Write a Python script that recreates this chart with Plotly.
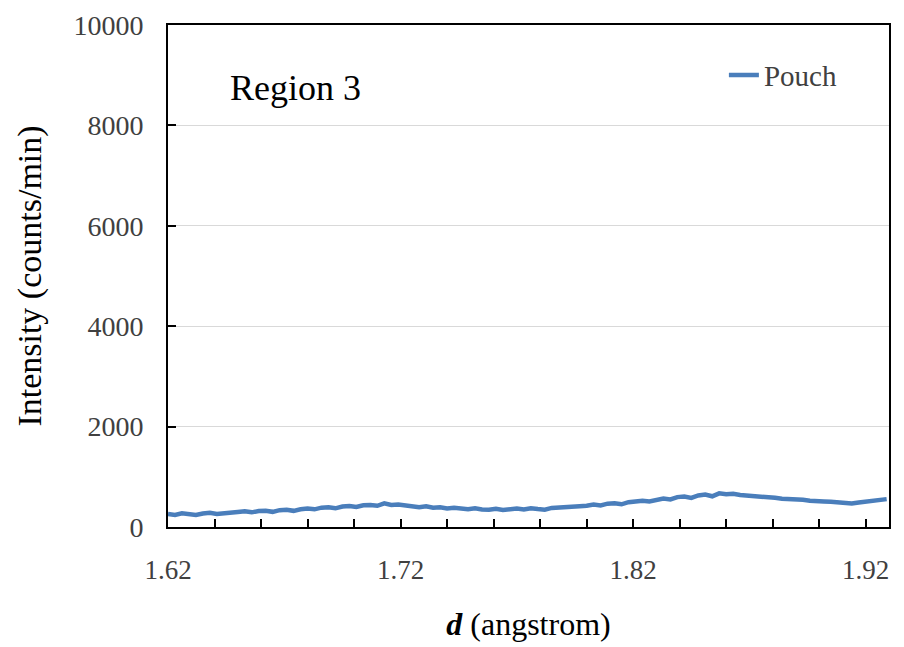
import numpy as np
import plotly.graph_objects as go

# Sampling of d (angstrom)
d_start = 1.620
d_step = 0.003
intensity = [
    260, 240, 272, 250, 238, 268, 282, 258, 278, 292, 300,
    315, 292, 318, 322, 302, 335, 345, 322, 352, 368,
    352, 385, 392, 372, 408, 420, 398, 432, 440, 422,
    472, 438, 448, 422, 418, 392, 412, 382, 392, 368,
    382, 362, 355, 375, 348, 345, 365, 338, 358, 368,
    348, 375, 358, 345, 380, 385, 400, 388, 415, 425,
    448, 430, 465, 472, 452, 495, 505, 525, 508, 548,
    565, 548, 595, 605, 580, 628, 645, 612, 670, 652,
    662, 638, 630, 608, 602, 588, 582, 565, 562, 548,
    542, 525, 525, 508, 502, 488, 480, 468, 488, 505,
    512, 528, 555,
]
d = d_start + d_step * np.arange(len(intensity))

x_range = [1.62, 1.93]
y_range = [0, 10000]
series_name = "Pouch"
region_label = "Region 3"

fig = go.Figure()
fig.add_trace(go.Scatter(
    x=d, y=intensity, mode="lines", name=series_name,
    line=dict(color="#4a7ebb", width=4.5),
))

serif = "Liberation Serif, Times New Roman, serif"
fig.update_layout(
    width=904, height=647,
    margin=dict(l=160, r=23, t=17, b=128),
    paper_bgcolor="white", plot_bgcolor="white",
    font=dict(family=serif, color="#404040"),
    showlegend=True,
    legend=dict(x=0.771, y=0.90, xanchor="left", yanchor="middle",
                bgcolor="rgba(0,0,0,0)", font=dict(size=29, color="#404040"),
                itemwidth=30),
    annotations=[dict(text=region_label, x=0.1775, y=0.875, xref="paper", yref="paper",
                      xanchor="center", yanchor="middle",
                      showarrow=False, font=dict(size=36, color="black", family=serif))],
)
fig.update_xaxes(
    range=x_range, tick0=1.62, dtick=0.1, tickformat=".2f",
    ticks="inside", ticklen=8, tickwidth=2, tickcolor="black",
    minor=dict(dtick=0.02, ticks="inside", ticklen=8, tickwidth=2, tickcolor="black", showgrid=False),
    showline=True, linecolor="black", linewidth=2, mirror=True,
    showgrid=False, zeroline=False, automargin=False,
    tickfont=dict(size=27, color="#404040"),
    ticklabelstandoff=18,
    title=dict(text="<b><i>d</i></b> (angstrom)", font=dict(size=32, color="black"), standoff=28),
)
fig.update_yaxes(
    range=y_range, dtick=2000, tickformat="d",
    ticks="inside", ticklen=8, tickwidth=2, tickcolor="black",
    showline=True, linecolor="black", linewidth=2, mirror=True,
    showgrid=True, gridcolor="#d9d9d9", gridwidth=1, zeroline=False, automargin=False,
    tickfont=dict(size=28, color="#404040"),
    ticklabelstandoff=17,
    title=dict(text="Intensity (counts/min)", font=dict(size=34, color="black"), standoff=22),
)

fig.write_html("out.html")
